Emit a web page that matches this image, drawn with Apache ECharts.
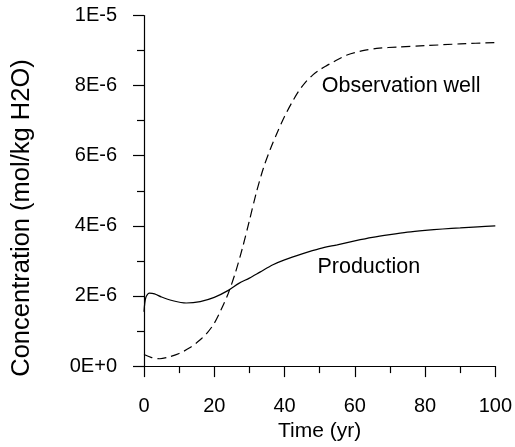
<!DOCTYPE html>
<html>
<head>
<meta charset="utf-8">
<script src="https://cdn.jsdelivr.net/npm/echarts@6/dist/echarts.min.js"></script>
<style>html,body{margin:0;padding:0;background:#fff;}#c{width:515px;height:447px;}</style>
</head>
<body>
<div id="c"></div>
<script>
// Time (yr) and concentration (units of 1E-6 mol/kg H2O)
var obsTime = [0, 2, 4.5, 7, 10, 13, 16, 18, 20, 22, 24, 26, 28, 30, 32, 34, 36, 38, 40, 42, 44, 46, 48, 50, 52, 54, 56, 58, 60, 63, 67, 72, 80, 90, 100];
var obsConc = [0.33, 0.25, 0.21, 0.26, 0.36, 0.52, 0.75, 0.95, 1.22, 1.62, 2.08, 2.66, 3.36, 4.15, 4.96, 5.65, 6.2, 6.68, 7.12, 7.5, 7.84, 8.1, 8.3, 8.45, 8.57, 8.68, 8.79, 8.88, 8.94, 9.01, 9.07, 9.1, 9.14, 9.19, 9.23];
var prodTime = [0, 0.5, 1.5, 3, 5, 8, 12, 16, 20, 24, 27, 30, 33, 36.7, 40, 45, 50, 55, 60, 65, 70, 75, 80, 85, 90, 95, 100];
var prodConc = [1.55, 1.95, 2.08, 2.06, 1.97, 1.87, 1.80, 1.84, 1.96, 2.16, 2.36, 2.51, 2.68, 2.89, 3.03, 3.2, 3.35, 3.46, 3.57, 3.67, 3.75, 3.82, 3.87, 3.91, 3.94, 3.97, 4.0];
var yTickLabels = ['0E+0', '2E-6', '4E-6', '6E-6', '8E-6', '1E-5'];
var xTickLabels = ['0', '20', '40', '60', '80', '100'];
var obsLabel = {name: 'Observation well', t: 73.2, c: 8.0};
var prodLabel = {name: 'Production', t: 64, c: 2.83};

function zip(a, b) { return a.map(function (v, i) { return [v, b[i]]; }); }

var FONT = 'Liberation Sans, Arial, sans-serif';
var chart = echarts.init(document.getElementById('c'), null, {renderer: 'canvas'});
var axisCommon = {
  axisLine: {show: true, lineStyle: {color: '#000', width: 1.2}},
  axisTick: {show: true, inside: false, length: 11, lineStyle: {color: '#000', width: 1.2}},
  minorTick: {show: true, splitNumber: 2, length: 7, lineStyle: {color: '#000', width: 1.2}},
  splitLine: {show: false},
  minorSplitLine: {show: false}
};
chart.setOption({
  animation: false,
  backgroundColor: '#fff',
  grid: {left: 144, right: 19, top: 15.5, bottom: 79.5, containLabel: false},
  xAxis: Object.assign({
    type: 'value', min: 0, max: 100, interval: 20,
    name: 'Time (yr)', nameLocation: 'middle', nameGap: 53,
    nameTextStyle: {color: '#000', fontSize: 21, fontFamily: FONT},
    axisLabel: {color: '#000', fontSize: 20, fontFamily: FONT, margin: 30,
      formatter: function (v) { return xTickLabels[Math.round(v / 20)]; }}
  }, axisCommon),
  yAxis: Object.assign({
    type: 'value', min: 0, max: 10, interval: 2,
    axisLabel: {color: '#000', fontSize: 20, fontFamily: FONT, margin: 27,
      formatter: function (v) { return yTickLabels[Math.round(v / 2)]; }}
  }, axisCommon),
  graphic: [{
    type: 'text', x: 22, y: 218, rotation: Math.PI / 2,
    style: {text: 'Concentration (mol/kg H2O)', fill: '#000', font: '25.5px ' + FONT, textAlign: 'center', textVerticalAlign: 'middle'}
  }],
  series: [{
    type: 'line', data: zip(obsTime, obsConc), smooth: 0.3, symbol: 'none',
    lineStyle: {color: '#000', width: 1.2, type: [9, 5]},
    markPoint: {symbolSize: 0, data: [{coord: [obsLabel.t, obsLabel.c], label: {show: true, formatter: obsLabel.name, color: '#000', fontSize: 21.5, fontFamily: FONT, position: 'inside'}}]}
  }, {
    type: 'line', data: zip(prodTime, prodConc), smooth: 0.3, symbol: 'none',
    lineStyle: {color: '#000', width: 1.2},
    markPoint: {symbolSize: 0, data: [{coord: [prodLabel.t, prodLabel.c], label: {show: true, formatter: prodLabel.name, color: '#000', fontSize: 21.5, fontFamily: FONT, position: 'inside'}}]}
  }]
});
</script>
</body>
</html>
